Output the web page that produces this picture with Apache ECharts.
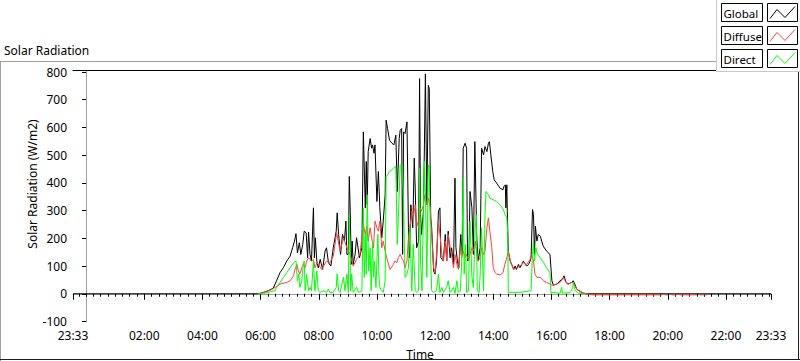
<!DOCTYPE html>
<html><head><meta charset="utf-8">
<script src="https://cdn.jsdelivr.net/npm/echarts@6/dist/echarts.min.js"></script>
<style>html,body{margin:0;padding:0;background:#fff}#c{width:800px;height:361px}</style>
</head><body><div id="c"></div>
<script>
// ---- tick labels (minutes after midnight; axis spans 23:33 -> 23:33) ----
const xTickMinutes = [-27,120,240,360,480,600,720,840,960,1080,1200,1320,1413];
const xTickLabels  = ['23:33','02:00','04:00','06:00','08:00','10:00','12:00','14:00','16:00','18:00','20:00','22:00','23:33'];
const seriesNames = ['Global','Diffuse','Direct'];

// ---- Global radiation (W/m2) ----
const globalTime = [-27,355,366,376,386,393,400,407,414,421,426,430,433,436,440,443,447,450,454,457,459,462,465,469,471,473,476,479,483,488,493,496,500,505,510,516,518,521,525,529,533,536,538,541,543,545,547,549,551,555,558,564,569,572,576,578,580,582,586,589,591,594,596,600,603,606,610,613,617,619,622,626,631,635,639,642,646,648,651,653,655,658,662,665,667,670,674,677,679,682,686,688,690,692,696,698,700,703,706,708,711,713,717,720,723,727,730,732,737,741,744,747,751,754,758,761,763,766,769,773,776,778,782,785,787,790,792,796,799,802,806,809,813,816,820,823,827,830,832,835,839,842,847,854,860,862,865,866,868,869,871,875,878,882,885,888,892,895,899,902,906,909,913,916,918,921,923,925,927,930,933,937,940,943,950,957,961,964,971,978,983,986,990,994,997,1002,1005,1009,1012,1019,1026,1033,1413];
const globalValue = [0,0,5,11,20,47,76,94,118,136,166,190,217,148,184,142,178,226,220,130,223,142,118,310,130,202,118,94,124,88,154,166,112,100,166,226,292,214,142,214,190,262,142,142,423,298,106,190,106,142,202,130,166,584,310,477,321,513,560,525,537,507,537,333,441,310,202,262,357,626,596,554,543,537,572,369,560,590,596,142,584,578,620,238,130,321,238,489,381,166,190,776,286,214,298,537,793,321,752,740,274,238,82,71,118,298,310,130,118,214,118,226,130,166,106,417,166,118,94,214,142,525,543,525,118,130,369,310,142,549,202,118,166,525,501,531,513,543,549,501,441,411,399,381,375,387,393,310,393,298,154,118,106,88,100,88,106,94,106,118,106,100,106,118,130,304,286,142,244,190,214,208,190,172,154,142,47,31,35,47,53,65,41,35,37,41,47,32,17,8,2,0,0];

// ---- Diffuse radiation (W/m2) ----
const diffuseTime = [355,366,380,390,400,414,421,428,431,435,438,441,445,448,452,455,459,465,469,472,476,479,486,496,503,510,517,524,531,538,545,551,558,565,572,576,579,582,586,589,593,596,600,603,606,610,613,617,620,624,627,634,637,641,644,648,651,655,658,662,665,668,672,675,679,682,686,689,692,696,699,703,706,710,713,717,720,723,727,730,734,737,741,744,747,751,754,758,761,765,768,772,775,778,782,785,789,792,796,799,803,806,809,813,816,820,823,827,830,833,837,840,844,847,854,860,864,868,871,875,882,888,895,902,909,916,919,923,926,930,937,944,950,957,961,971,978,985,988,995,1002,1005,1012,1023,1033,1040,1044,1188,1191,1194,1201,1204,1208,1218,1221,1225,1260,1263,1266,1281];
const diffuseValue = [0,5,13,23,35,41,47,65,88,106,82,71,94,106,94,118,130,118,124,94,112,106,88,118,112,136,220,154,202,166,142,100,124,142,250,214,244,190,238,202,166,262,238,226,262,166,190,154,130,106,88,106,118,112,130,142,130,118,94,118,202,238,298,274,321,262,238,310,298,321,357,321,345,310,214,94,76,142,262,214,142,118,190,118,214,166,142,94,142,106,88,166,130,154,130,142,118,142,166,154,190,142,118,130,166,142,154,238,274,226,166,94,76,71,68,76,106,130,154,118,88,94,100,112,106,124,142,118,71,59,59,47,41,35,31,35,41,59,47,35,41,41,17,5,0,-2,-4,-4,null,-4,-4,null,-4,-4,null,-4,-4,null,-4,-4];

// ---- Direct radiation (W/m2) ----
const directTime = [355,366,390,393,400,407,414,421,428,433,436,439,441,445,448,450,452,455,459,462,465,469,472,476,479,483,490,496,500,503,510,516,518,521,524,531,534,538,541,543,546,548,551,558,562,569,572,574,576,578,580,583,586,588,591,593,595,598,600,602,604,606,610,613,617,619,622,626,631,635,639,642,645,648,652,655,658,662,665,668,672,675,679,682,686,688,690,693,696,698,700,703,706,708,711,713,717,723,727,730,734,737,744,747,751,758,761,765,768,772,775,778,780,783,785,789,792,796,799,803,805,807,811,813,816,820,823,825,830,833,840,847,854,861,864,868,870,871,895,918,921,923,925,928,930,937,944,950,957,959,978,981,983,999,1004,1005,1009,1016,1023,1030];
const directValue = [0,1,11,23,41,59,76,94,112,118,47,71,23,47,106,118,11,71,11,23,11,118,11,82,11,5,11,5,17,5,5,23,71,11,5,59,11,71,5,286,11,71,5,23,5,11,310,59,214,71,357,82,166,11,190,59,118,23,118,214,71,23,11,5,47,423,429,441,447,455,459,178,310,465,465,333,59,71,94,238,11,178,11,5,11,453,118,11,310,477,369,59,465,453,118,11,5,11,71,5,23,5,23,47,5,23,1,47,5,11,118,417,71,178,5,11,262,59,23,238,286,11,5,71,238,11,286,369,357,345,339,333,321,304,286,274,214,5,5,11,142,190,118,166,148,130,112,94,76,5,2,23,2,5,23,41,11,2,1,0];

const colors = {Global:'#000000', Diffuse:'#ff4040', Direct:'#00ff00'};
const FONT = "'Noto Sans', sans-serif";
const pairs = (t, v) => t.map((x, i) => [x, v[i] === null ? '-' : v[i]]);

const X_MIN = xTickMinutes[0], X_MAX = xTickMinutes[xTickMinutes.length - 1];
const labelOf = {};
xTickMinutes.forEach((m, i) => labelOf[m] = xTickLabels[i]);
const minorTicks = [];
for (let m = -15; m < X_MAX; m += 15) if (!xTickMinutes.includes(m)) minorTicks.push(m);

const chart = echarts.init(document.getElementById('c'), null, {renderer: 'svg', width: 800, height: 361});

// legend drawn as boxed plate (LabVIEW style)
const legendEls = [
  {type:'rect', shape:{x:716.5, y:-1, width:90, height:72.5}, style:{fill:'#fff', stroke:'#c8c8c8', lineWidth:1}, z:100}
];
seriesNames.forEach((name, i) => {
  const y0 = 3.5 + i * 23;
  legendEls.push({type:'rect', shape:{x:721.5, y:y0, width:41, height:18}, style:{fill:'#fff', stroke:'#000', lineWidth:1}, z:101});
  legendEls.push({type:'text', x:723.5, y:y0 + 9.5, style:{text:name, fill:'#000', font:'11.5px ' + FONT, textVerticalAlign:'middle', textAlign:'left'}, z:102});
  legendEls.push({type:'rect', shape:{x:767.5, y:y0, width:30, height:18}, style:{fill:'#fff', stroke:'#000', lineWidth:1}, z:101});
  legendEls.push({type:'polyline', shape:{points:[[770, y0 + 15], [777, y0 + 6], [785, y0 + 14], [795, y0 + 3]]}, style:{stroke:colors[name], lineWidth:1, fill:null}, z:102});
});

chart.setOption({
  animation: false,
  backgroundColor: '#fff',
  textStyle: {fontFamily: FONT},
  grid: {left: 73, top: 72, width: 698, height: 249.5, show: false},
  xAxis: [
    {type:'value', min:X_MIN, max:X_MAX, position:'bottom',
     axisLine:{show:true, lineStyle:{color:'#a0a0a0', width:1}},
     axisTick:{show:true, customValues:xTickMinutes, length:6, lineStyle:{color:'#000'}},
     axisLabel:{show:true, customValues:xTickMinutes, formatter:v => labelOf[v] !== undefined ? labelOf[v] : '', color:'#000', fontSize:12, lineHeight:12, fontFamily:FONT, margin:8, showMinLabel:true, showMaxLabel:true},
     splitLine:{show:false}},
    {type:'value', min:X_MIN, max:X_MAX, position:'bottom',
     axisLine:{show:false},
     axisTick:{show:true, customValues:minorTicks, length:3, lineStyle:{color:'#000'}},
     axisLabel:{show:false}, splitLine:{show:false}},
    {type:'value', min:X_MIN, max:X_MAX, position:'top', offset:2,
     axisLine:{show:true, lineStyle:{color:'#000', width:1}},
     axisTick:{show:false}, axisLabel:{show:false}, splitLine:{show:false}}
  ],
  yAxis: [
    {type:'value', min:-100, max:800, interval:100, position:'left',
     axisLine:{show:true, lineStyle:{color:'#000', width:1}},
     axisTick:{show:true, length:4, lineStyle:{color:'#000'}},
     axisLabel:{color:'#000', fontSize:12, lineHeight:12, fontFamily:FONT, margin:6},
     splitLine:{show:false}},
    {type:'value', min:-100, max:800, interval:100, position:'right',
     axisLine:{show:true, lineStyle:{color:'#a0a0a0', width:1}},
     axisTick:{show:false}, axisLabel:{show:false}, splitLine:{show:false}}
  ],
  series: [
    {name:'Global', type:'line', data:pairs(globalTime, globalValue), showSymbol:false, lineStyle:{color:colors.Global, width:1}, itemStyle:{color:colors.Global}, z:2},
    {name:'Diffuse', type:'line', data:pairs(diffuseTime, diffuseValue), showSymbol:false, connectNulls:false, lineStyle:{color:colors.Diffuse, width:1}, itemStyle:{color:colors.Diffuse}, z:3},
    {name:'Direct', type:'line', data:pairs(directTime, directValue), showSymbol:false, lineStyle:{color:colors.Direct, width:1}, itemStyle:{color:colors.Direct}, z:4}
  ],
  graphic: [
    // outer panel frame
    {type:'line', shape:{x1:0, y1:61.5, x2:717, y2:61.5}, style:{stroke:'#a0a0a0', lineWidth:1}, z:50},
    {type:'line', shape:{x1:0.5, y1:61.5, x2:0.5, y2:361}, style:{stroke:'#a0a0a0', lineWidth:1}, z:50},
    {type:'line', shape:{x1:0, y1:359.5, x2:800, y2:359.5}, style:{stroke:'#202020', lineWidth:1}, z:50},
    {type:'line', shape:{x1:798.5, y1:70, x2:798.5, y2:360}, style:{stroke:'#202020', lineWidth:1}, z:50},
    // titles
    {type:'text', x:4, y:50, style:{text:'Solar Radiation', fill:'#000', font:'12px ' + FONT, textVerticalAlign:'middle'}, z:60},
    {type:'text', x:32, y:184, rotation:Math.PI / 2, style:{text:'Solar Radiation (W/m2)', fill:'#000', font:'12px ' + FONT, textAlign:'center', textVerticalAlign:'middle'}, z:60},
    {type:'text', x:420, y:354, style:{text:'Time', fill:'#000', font:'12px ' + FONT, textAlign:'center', textVerticalAlign:'middle'}, z:60}
  ].concat(legendEls)
});
</script>
</body></html>
